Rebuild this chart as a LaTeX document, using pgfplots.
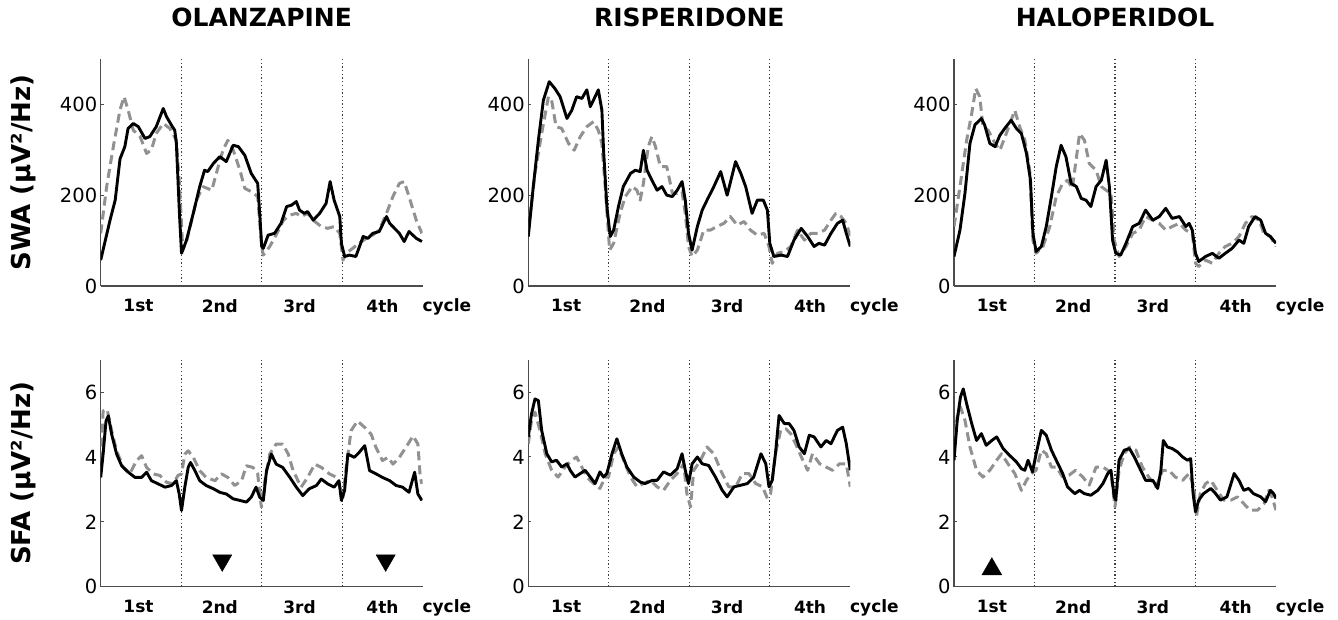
\documentclass[border=0pt]{standalone}
\usepackage{pgfplots}
\pgfplotsset{compat=1.18}
\usepackage{fontspec}
\setmainfont{DejaVu Sans}
\definecolor{dgray}{RGB}{145,145,145}
\pgfplotsset{
 panel/.style={
  scale only axis, width=322pt, height=227pt,
  xmin=0, xmax=4, ymin=0,
  axis x line=bottom, axis y line=left,
  axis line style={-, line width=1.1pt, black!70},
  xtick={0.47,1.48,2.47,3.5}, xticklabels={1st,2nd,3rd,4th},
  xtick style={draw=none},
  ytick style={line width=1pt, black!70}, tick align=inside, major tick length=3pt,
  extra x ticks={1,2,3}, extra x tick labels={},
  extra x tick style={grid=major, major grid style={line width=1.3pt, black!75, dash pattern=on 1.3pt off 2.4pt}},
  /pgf/number format/assume math mode=true,
  yticklabel style={font=\fontsize{19.5}{19.5}\selectfont},
  xticklabel style={font=\bfseries\fontsize{17}{17}\selectfont, yshift=-10pt},
  xlabel={cycle},
  xlabel style={at={(axis description cs:1.075,-0.092)}, anchor=center, font=\bfseries\fontsize{17}{17}\selectfont},
  ylabel style={at={(axis description cs:-0.241,0.5)}, anchor=center, font=\bfseries\fontsize{26}{26}\selectfont},
  title style={at={(axis description cs:0.5,1.159)}, anchor=center, font=\bfseries\fontsize{25}{25}\selectfont},
 },
 top/.style={panel, ymax=500, ytick={0,200,400}},
 bot/.style={panel, ymax=7, ytick={0,2,4,6}},
 blk/.style={black, line width=2.9pt, line join=round, no marks},
 gry/.style={dgray, line width=3pt, dash pattern=on 9pt off 5pt, line join=round, no marks},
}
\begin{document}
\begin{tikzpicture}
\useasboundingbox (0,0) rectangle (1338pt,619pt);
% ---------------- OLANZAPINE SWA
\begin{axis}[top, at={(100.7pt,333pt)}, anchor=south west, title={OLANZAPINE}, ylabel={SWA (μV²/Hz)}]
\addplot[gry] coordinates {(0,116) (0.074,219) (0.157,307) (0.24,388) (0.29,417) (0.34,388) (0.405,343) (0.49,329) (0.57,292) (0.63,300) (0.69,336) (0.777,358) (0.86,347) (0.94,321) (0.98,219) (1.02,79)
(1.07,101) (1.19,189) (1.27,219) (1.38,211) (1.46,263) (1.52,300) (1.58,321) (1.645,300) (1.73,255) (1.79,215) (1.87,208) (1.95,197) (2.0,87)
(2.02,68) (2.10,87) (2.19,116) (2.27,145) (2.35,156) (2.43,160) (2.49,153) (2.57,160) (2.66,142) (2.74,131) (2.82,127) (2.90,131) (2.97,116) (3.01,57)
(3.05,72) (3.13,83) (3.21,94) (3.30,105) (3.38,112) (3.46,123) (3.55,160) (3.63,197) (3.71,226) (3.77,230) (3.83,197) (3.92,145) (3.99,116)};
\addplot[blk] coordinates {(0,57) (0.116,145) (0.18,189) (0.24,280) (0.30,307) (0.34,347) (0.405,358) (0.467,351) (0.55,325) (0.61,329) (0.69,351) (0.777,391) (0.818,373) (0.88,354) (0.92,343) (0.94,314) (0.98,153) (1.004,72)
(1.066,101) (1.15,160) (1.23,219) (1.29,255) (1.33,252) (1.40,270) (1.48,285) (1.56,274) (1.645,310) (1.71,307) (1.79,288) (1.87,248) (1.95,226) (1.975,160) (2.0,87)
(2.02,83) (2.08,112) (2.16,116) (2.24,138) (2.31,175) (2.37,178) (2.43,186) (2.47,167) (2.53,160) (2.57,164) (2.64,145) (2.72,160) (2.80,182) (2.85,230) (2.90,189) (2.97,153) (2.99,94) (3.03,65)
(3.09,68) (3.17,65) (3.26,109) (3.32,105) (3.38,116) (3.46,120) (3.55,153) (3.59,138) (3.65,127) (3.71,116) (3.77,98) (3.83,120) (3.92,105) (3.99,98)};
\end{axis}
% ---------------- RISPERIDONE SWA
\begin{axis}[top, at={(528.3pt,333pt)}, anchor=south west, title={RISPERIDONE}]
\addplot[gry] coordinates {(0,123) (0.083,248) (0.166,336) (0.25,417) (0.29,409) (0.345,351) (0.415,347) (0.50,314) (0.57,299) (0.645,329) (0.727,351) (0.81,362) (0.87,343) (0.914,314) (0.955,219) (1.01,79)
(1.06,94) (1.14,160) (1.205,197) (1.29,219) (1.35,211) (1.39,189) (1.43,226) (1.49,307) (1.535,329) (1.58,307) (1.64,263) (1.72,263) (1.79,204) (1.85,204) (1.91,208) (1.95,160) (1.99,87) (2.035,65)
(2.10,79) (2.18,123) (2.26,123) (2.345,131) (2.43,138) (2.51,153) (2.595,134) (2.68,142) (2.76,123) (2.845,112) (2.93,116) (2.99,87) (3.03,50)
(3.095,72) (3.18,76) (3.26,87) (3.345,123) (3.43,101) (3.51,116) (3.60,116) (3.68,123) (3.76,145) (3.82,160) (3.885,153) (3.95,138) (4.0,109)};
\addplot[blk] coordinates {(0,109) (0.062,219) (0.125,321) (0.187,409) (0.26,450) (0.33,435) (0.395,417) (0.48,369) (0.54,387) (0.60,417) (0.665,413) (0.727,432) (0.77,395) (0.83,417) (0.87,432) (0.914,387) (0.935,299) (0.976,175) (1.018,109)
(1.06,123) (1.12,175) (1.18,219) (1.27,248) (1.33,255) (1.39,252) (1.43,299) (1.475,255) (1.535,233) (1.60,211) (1.66,219) (1.72,200) (1.79,197) (1.85,211) (1.91,230) (1.95,189) (1.99,116) (2.035,79)
(2.10,131) (2.16,167) (2.22,189) (2.305,219) (2.39,252) (2.47,200) (2.575,274) (2.64,248) (2.70,219) (2.78,160) (2.845,189) (2.92,189) (2.97,167) (3.0,94) (3.05,65)
(3.14,68) (3.22,65) (3.30,101) (3.39,127) (3.47,109) (3.55,87) (3.61,94) (3.68,90) (3.76,116) (3.84,138) (3.905,145) (3.95,116) (4.0,87)};
\end{axis}
% ---------------- HALOPERIDOL SWA
\begin{axis}[top, at={(954pt,333pt)}, anchor=south west, title={HALOPERIDOL}]
\addplot[gry] coordinates {(0,131) (0.074,219) (0.157,321) (0.22,380) (0.27,435) (0.32,417) (0.36,351) (0.425,343) (0.51,314) (0.57,299) (0.65,336) (0.755,387) (0.815,351) (0.88,321) (0.94,255) (0.98,101) (1.02,72)
(1.105,87) (1.19,131) (1.27,197) (1.35,226) (1.41,233) (1.47,215) (1.56,336) (1.62,321) (1.68,270) (1.765,255) (1.83,219) (1.89,211) (1.95,204) (1.99,101) (2.05,65)
(2.136,87) (2.22,116) (2.30,123) (2.38,153) (2.47,145) (2.55,138) (2.63,123) (2.71,131) (2.80,138) (2.88,123) (2.96,116) (3.0,50) (3.04,43)
(3.125,57) (3.21,50) (3.29,72) (3.37,87) (3.455,94) (3.54,109) (3.62,138) (3.70,153) (3.79,145) (3.85,116) (3.93,109) (4.0,87)};
\addplot[blk] coordinates {(0,65) (0.074,123) (0.136,204) (0.198,314) (0.26,355) (0.34,369) (0.38,355) (0.445,314) (0.51,307) (0.57,332) (0.63,347) (0.71,365) (0.775,347) (0.837,336) (0.90,292) (0.95,233) (0.98,116) (1.02,76)
(1.085,87) (1.146,131) (1.21,197) (1.27,263) (1.33,310) (1.39,285) (1.455,226) (1.52,219) (1.58,193) (1.64,189) (1.70,175) (1.765,219) (1.83,233) (1.89,277) (1.93,219) (1.97,101) (2.01,72)
(2.07,68) (2.136,94) (2.22,131) (2.30,138) (2.38,167) (2.47,145) (2.55,153) (2.63,171) (2.71,149) (2.80,153) (2.88,131) (2.92,138) (2.96,123) (3.0,72) (3.04,54)
(3.125,65) (3.21,72) (3.29,61) (3.37,72) (3.455,83) (3.54,101) (3.60,94) (3.66,131) (3.74,153) (3.81,145) (3.87,116) (3.93,109) (4.0,94)};
\end{axis}
% ---------------- OLANZAPINE SFA
\begin{axis}[bot, at={(100.7pt,32.3pt)}, anchor=south west, ylabel={SFA (μV²/Hz)}]
\addplot[gry] coordinates {(0,3.89) (0.03,5.42) (0.08,5.47) (0.136,4.81) (0.198,4.19) (0.28,3.68) (0.36,3.48) (0.446,3.89) (0.508,4.04) (0.57,3.68) (0.65,3.48) (0.735,3.43) (0.818,3.22) (0.90,3.17) (0.96,3.43) (1.004,3.48)
(1.045,4.09) (1.087,4.19) (1.15,3.99) (1.23,3.58) (1.31,3.37) (1.42,3.27) (1.50,3.48) (1.58,3.37) (1.665,3.12) (1.75,3.27) (1.81,3.73) (1.89,3.68) (1.95,3.48) (1.996,2.45)
(2.04,3.27) (2.10,4.09) (2.18,4.40) (2.26,4.40) (2.33,4.09) (2.39,3.58) (2.49,3.07) (2.57,3.37) (2.66,3.78) (2.74,3.68) (2.84,3.48) (2.93,3.37) (2.97,3.07) (3.01,2.76)
(3.05,3.68) (3.11,4.81) (3.19,5.11) (3.28,4.91) (3.36,4.70) (3.42,4.29) (3.50,3.89) (3.57,3.99) (3.63,3.78) (3.71,3.99) (3.79,4.29) (3.88,4.65) (3.94,4.40) (3.97,3.37) (3.99,3.17)};
\addplot[blk] coordinates {(0,3.37) (0.03,4.09) (0.066,5.11) (0.095,5.27) (0.136,4.70) (0.198,4.09) (0.26,3.73) (0.343,3.53) (0.426,3.37) (0.508,3.37) (0.57,3.53) (0.63,3.27) (0.715,3.17) (0.798,3.07) (0.88,3.12) (0.94,3.27) (0.975,2.86) (1.004,2.35)
(1.045,3.07) (1.087,3.68) (1.116,3.83) (1.17,3.58) (1.23,3.27) (1.31,3.12) (1.40,3.02) (1.48,2.91) (1.56,2.86) (1.645,2.71) (1.73,2.66) (1.81,2.61) (1.87,2.76) (1.93,3.07) (1.975,2.76) (2.02,2.66)
(2.06,3.58) (2.12,4.09) (2.18,3.78) (2.26,3.68) (2.35,3.37) (2.43,3.07) (2.51,2.81) (2.59,3.02) (2.68,3.12) (2.74,3.32) (2.82,3.17) (2.90,3.07) (2.96,3.27) (2.99,2.66) (3.03,2.97)
(3.07,4.09) (3.15,3.99) (3.21,4.14) (3.28,4.35) (3.34,3.58) (3.42,3.48) (3.50,3.37) (3.59,3.27) (3.67,3.12) (3.75,3.07) (3.83,2.91) (3.90,3.53) (3.94,2.86) (3.99,2.66)};
\addplot[only marks, mark=triangle*, mark size=11pt, mark options={rotate=180, fill=black, draw=black}] coordinates {(1.51,0.81) (3.54,0.81)};
\end{axis}
% ---------------- RISPERIDONE SFA
\begin{axis}[bot, at={(528.3pt,32.3pt)}, anchor=south west]
\addplot[gry] coordinates {(0,4.41) (0.04,5.13) (0.083,5.38) (0.145,4.82) (0.21,4.10) (0.29,3.59) (0.37,3.38) (0.457,3.69) (0.54,3.90) (0.60,4.00) (0.665,3.69) (0.727,3.38) (0.81,3.18) (0.89,3.03) (0.955,3.38) (0.996,3.38)
(1.06,4.10) (1.12,4.31) (1.185,3.90) (1.27,3.38) (1.35,3.08) (1.43,3.18) (1.516,3.28) (1.60,3.08) (1.68,2.97) (1.765,3.28) (1.85,3.49) (1.93,3.79) (1.97,2.87) (2.015,2.46)
(2.055,3.59) (2.14,3.90) (2.22,4.31) (2.305,4.10) (2.39,3.59) (2.49,3.08) (2.575,3.08) (2.66,3.49) (2.74,3.49) (2.825,3.18) (2.91,3.08) (2.97,2.72) (3.01,2.87)
(3.07,4.10) (3.135,4.82) (3.20,4.87) (3.26,4.72) (3.32,4.41) (3.41,3.90) (3.47,3.59) (3.53,4.10) (3.62,3.79) (3.70,3.69) (3.78,3.59) (3.865,3.79) (3.95,3.79) (4.0,3.08)};
\addplot[blk] coordinates {(0,4.62) (0.04,5.33) (0.083,5.79) (0.125,5.74) (0.166,4.82) (0.23,4.10) (0.29,3.85) (0.35,3.90) (0.415,3.69) (0.48,3.79) (0.52,3.59) (0.58,3.38) (0.645,3.49) (0.706,3.59) (0.77,3.38) (0.83,3.18) (0.89,3.54) (0.935,3.38) (0.976,3.49)
(1.04,4.10) (1.10,4.56) (1.16,4.10) (1.225,3.69) (1.31,3.38) (1.39,3.23) (1.45,3.18) (1.54,3.28) (1.60,3.28) (1.68,3.54) (1.765,3.44) (1.85,3.64) (1.91,4.10) (1.95,3.59) (1.99,3.18)
(2.035,3.79) (2.10,4.00) (2.16,3.79) (2.24,3.74) (2.325,3.38) (2.41,2.97) (2.47,2.77) (2.555,3.08) (2.64,3.13) (2.72,3.18) (2.80,3.38) (2.89,4.10) (2.95,3.79) (2.99,3.08) (3.03,3.28)
(3.07,4.10) (3.115,5.28) (3.18,5.03) (3.24,5.03) (3.30,4.82) (3.365,4.31) (3.43,4.10) (3.49,4.67) (3.55,4.62) (3.635,4.31) (3.70,4.51) (3.76,4.41) (3.84,4.82) (3.905,4.92) (3.95,4.41) (4.0,3.59)};
\end{axis}
% ---------------- HALOPERIDOL SFA
\begin{axis}[bot, at={(954pt,32.3pt)}, anchor=south west]
\addplot[gry] coordinates {(0,4.21) (0.04,5.23) (0.08,5.54) (0.136,5.13) (0.198,4.31) (0.28,3.59) (0.36,3.38) (0.445,3.59) (0.53,3.90) (0.59,4.10) (0.67,3.79) (0.755,3.49) (0.837,2.97) (0.90,3.28) (0.96,3.49) (1.02,3.59)
(1.085,4.21) (1.146,4.10) (1.21,3.69) (1.27,3.69) (1.35,3.38) (1.43,3.44) (1.51,3.59) (1.60,3.38) (1.68,3.13) (1.765,3.69) (1.85,3.69) (1.91,3.59) (1.95,3.49) (2.0,2.46)
(2.05,3.59) (2.115,4.10) (2.18,4.31) (2.26,4.21) (2.34,3.69) (2.42,3.38) (2.51,3.08) (2.59,3.59) (2.67,3.59) (2.75,3.38) (2.84,3.28) (2.92,3.49) (2.98,3.08) (3.01,2.15)
(3.06,2.87) (3.125,3.18) (3.19,3.28) (3.27,2.97) (3.35,2.67) (3.44,2.67) (3.52,2.77) (3.60,2.56) (3.68,2.36) (3.77,2.36) (3.85,2.56) (3.91,2.97) (3.95,2.77) (4.0,2.36)};
\addplot[blk] coordinates {(0,3.90) (0.04,5.13) (0.08,5.85) (0.115,6.10) (0.157,5.64) (0.22,5.03) (0.28,4.51) (0.34,4.72) (0.40,4.36) (0.47,4.51) (0.53,4.62) (0.61,4.26) (0.69,4.05) (0.775,3.85) (0.837,3.64) (0.88,3.59) (0.92,3.90) (0.975,3.54)
(1.02,4.10) (1.085,4.82) (1.146,4.67) (1.21,4.21) (1.27,3.90) (1.35,3.49) (1.41,3.08) (1.50,2.87) (1.56,2.97) (1.62,2.87) (1.70,2.82) (1.785,2.97) (1.85,3.18) (1.91,3.49) (1.95,3.59) (1.99,2.77) (2.01,2.67)
(2.05,3.90) (2.115,4.21) (2.18,4.26) (2.24,4.00) (2.30,3.69) (2.38,3.28) (2.47,3.28) (2.53,3.03) (2.57,3.59) (2.60,4.51) (2.65,4.31) (2.71,4.26) (2.78,4.15) (2.84,4.00) (2.90,3.90) (2.94,3.95) (2.97,2.87) (3.0,2.31)
(3.04,2.67) (3.10,2.87) (3.19,3.03) (3.25,2.87) (3.31,2.67) (3.39,2.77) (3.48,3.49) (3.54,3.28) (3.60,2.97) (3.66,3.03) (3.72,2.87) (3.81,2.77) (3.87,2.62) (3.93,2.97) (3.97,2.87) (4.0,2.72)};
\addplot[only marks, mark=triangle*, mark size=11.5pt, mark options={fill=black, draw=black}] coordinates {(0.47,0.54)};
\end{axis}
\end{tikzpicture}
\end{document}
